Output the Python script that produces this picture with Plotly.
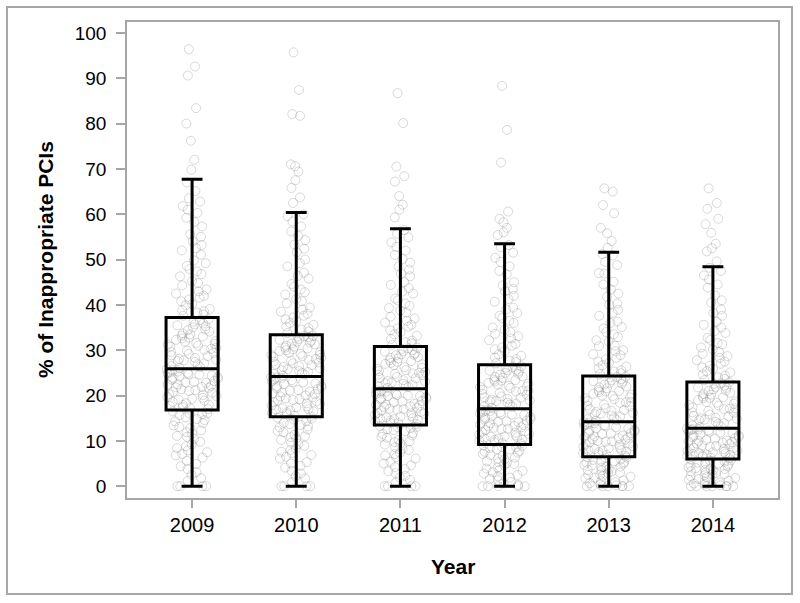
import plotly.graph_objects as go

years = ["2009", "2010", "2011", "2012", "2013", "2014"]

# box summary statistics
q1 = [16.8, 15.3, 13.5, 9.2, 6.5, 6.0]
median = [25.9, 24.2, 21.5, 17.1, 14.2, 12.8]
q3 = [37.2, 33.4, 30.8, 26.8, 24.3, 23.0]
lower_whisker = [0, 0, 0, 0, 0, 0]
upper_whisker = [67.7, 60.4, 56.8, 53.5, 51.6, 48.4]

# individual hospital values (estimated from the jittered point cloud)
pts_2009 = [0, 0, 0, 1.2, 2.5, 3.8, 4.4, 5.6, 6.3, 7.1, 7.9, 8.4, 9.2, 9.8, 10.5, 11.1, 11.6, 12.3, 12.8, 13.4,
            13.9, 14.3, 14.8, 15.2, 15.7, 16.1, 16.5, 3.1, 6.8, 10.9,
            17.0, 17.4, 17.9, 18.3, 18.6, 19.1, 19.5, 19.9, 20.3, 20.6, 21.0, 21.4, 21.8, 22.1, 22.5, 22.8, 23.2,
            23.5, 23.9, 24.2, 24.6, 24.9, 25.3, 25.6, 18.9, 20.1, 21.7, 22.9, 24.1, 25.1,
            26.1, 26.5, 26.9, 27.4, 27.8, 28.3, 28.7, 29.2, 29.6, 30.1, 30.5, 31.0, 31.4, 31.9, 32.3, 32.8, 33.2,
            33.7, 34.1, 34.6, 35.0, 35.5, 35.9, 36.3, 36.8, 27.1, 28.9, 30.8, 33.0, 35.3,
            37.6, 38.3, 39.1, 39.9, 40.8, 41.6, 42.5, 43.4, 44.3, 45.2, 46.3, 47.4, 48.6, 49.8, 51.1, 52.5, 54.0,
            55.6, 57.3, 59.2, 61.0, 62.8, 65.1, 69.8, 76.2, 80.0, 83.4, 90.6, 92.6, 96.4]
pts_2009_more = [1.8, 4.9, 8.8, 11.9, 14.6, 16.0, 0, 7.5, 13.1, 15.9,
                 17.2, 18.0, 19.3, 20.8, 21.2, 22.4, 23.7, 24.4, 25.0, 25.8, 19.7, 23.0, 17.7, 21.9, 24.7,
                 26.3, 27.6, 28.1, 29.4, 30.3, 31.2, 32.0, 32.6, 34.4, 35.7, 36.6, 29.9, 27.9, 33.5, 31.6,
                 37.9, 38.8, 40.2, 41.2, 43.0, 44.8, 46.8, 49.2, 52.0, 55.0, 58.3, 60.3, 63.5, 67.0, 72.0,
                 38.6, 42.0, 47.9, 53.2, 61.8]

pts_2010 = [0, 0, 0, 0.9, 2.2, 3.4, 4.5, 5.3, 6.1, 6.9, 7.6, 8.3, 8.9, 9.6, 10.2, 10.8, 11.4, 11.9, 12.5, 13.0,
            13.5, 14.0, 14.4, 14.9, 15.1, 1.7, 5.0, 8.0, 11.0, 13.7,
            15.6, 15.9, 16.3, 16.7, 17.0, 17.4, 17.8, 18.1, 18.5, 18.9, 19.2, 19.6, 20.0, 20.3, 20.7, 21.1, 21.4,
            21.8, 22.2, 22.5, 22.9, 23.2, 23.6, 23.9, 16.1, 17.6, 19.4, 20.9, 22.7, 24.0,
            24.4, 24.8, 25.2, 25.6, 26.0, 26.3, 26.7, 27.1, 27.5, 27.9, 28.3, 28.7, 29.0, 29.4, 29.8, 30.2, 30.6,
            31.0, 31.3, 31.7, 32.1, 32.5, 32.9, 33.2, 25.4, 27.3, 28.9, 30.4, 31.9, 33.0,
            33.8, 34.5, 35.2, 36.0, 36.8, 37.6, 38.5, 39.4, 40.3, 41.3, 42.3, 43.4, 44.6, 45.8, 47.1, 48.5, 50.0,
            51.6, 53.3, 55.2, 57.3, 59.6, 62.5, 65.8, 69.4, 70.6, 81.7, 82.1, 87.4, 95.7]
pts_2010_more = [0, 2.8, 6.5, 9.3, 12.2, 14.7, 4.1, 10.5, 13.2, 7.3,
                 15.4, 16.5, 17.2, 18.3, 19.0, 19.8, 20.5, 21.6, 22.0, 23.0, 23.4, 24.1, 16.9, 18.7, 21.2,
                 24.6, 25.0, 25.8, 26.5, 27.7, 28.1, 28.5, 29.2, 30.0, 30.8, 31.5, 32.3, 33.1, 26.9, 29.6,
                 34.1, 34.9, 35.6, 36.4, 37.2, 38.0, 39.0, 40.8, 42.8, 44.0, 46.4, 49.2, 52.4, 54.3, 56.2,
                 58.4, 60.0, 63.7, 67.5, 71.0]

pts_2011 = [0, 0, 0, 0.8, 1.9, 2.9, 3.8, 4.6, 5.4, 6.1, 6.8, 7.4, 8.0, 8.6, 9.2, 9.7, 10.2, 10.7, 11.2, 11.7,
            12.1, 12.6, 13.0, 13.3, 1.4, 4.2, 7.1, 9.9, 12.4, 3.3,
            13.7, 14.0, 14.3, 14.6, 14.9, 15.2, 15.5, 15.8, 16.1, 16.4, 16.7, 17.0, 17.3, 17.6, 17.9, 18.2, 18.5,
            18.8, 19.1, 19.4, 19.7, 20.0, 20.3, 20.6, 20.9, 21.2, 14.5, 16.0, 17.8, 19.9,
            21.7, 22.0, 22.4, 22.7, 23.1, 23.4, 23.8, 24.1, 24.5, 24.8, 25.2, 25.6, 25.9, 26.3, 26.7, 27.0, 27.4,
            27.8, 28.2, 28.5, 28.9, 29.3, 29.7, 30.0, 30.4, 30.6, 22.9, 24.9, 27.2, 29.1,
            31.2, 31.8, 32.5, 33.2, 34.0, 34.8, 35.6, 36.5, 37.4, 38.3, 39.3, 40.3, 41.4, 42.5, 43.7, 45.0, 46.3,
            47.8, 49.3, 51.0, 52.8, 54.9, 56.5, 59.3, 62.1, 67.2, 68.4, 70.5, 80.1, 86.7]
pts_2011_more = [0, 2.3, 5.0, 8.3, 10.9, 12.8, 6.4, 9.4, 11.5, 13.1,
                 13.9, 14.8, 15.4, 16.2, 16.9, 17.5, 18.0, 18.7, 19.3, 19.9, 20.4, 21.0, 15.0, 17.1, 20.1,
                 21.9, 22.6, 23.2, 23.9, 24.6, 25.4, 26.1, 26.9, 27.6, 28.3, 29.0, 29.8, 30.3, 22.2, 25.0,
                 31.5, 32.1, 33.5, 34.4, 35.2, 36.1, 37.0, 38.8, 39.8, 41.0, 42.9, 44.4, 46.9, 48.5, 50.1,
                 52.0, 53.8, 55.7, 61.0, 64.0]

pts_2012 = [0, 0, 0, 0, 0.6, 1.3, 1.9, 2.5, 3.1, 3.6, 4.1, 4.6, 5.1, 5.5, 5.9, 6.3, 6.7, 7.1, 7.4, 7.8,
            8.1, 8.4, 8.7, 9.0, 0.9, 2.8, 4.9, 6.9, 8.9, 3.4,
            9.4, 9.7, 10.0, 10.3, 10.6, 10.9, 11.2, 11.5, 11.8, 12.1, 12.4, 12.7, 13.0, 13.3, 13.6, 13.9, 14.2,
            14.5, 14.8, 15.1, 15.4, 15.7, 16.0, 16.3, 16.6, 16.9, 10.5, 12.6, 14.3, 15.9,
            17.3, 17.6, 18.0, 18.4, 18.7, 19.1, 19.5, 19.8, 20.2, 20.6, 20.9, 21.3, 21.7, 22.0, 22.4, 22.8, 23.1,
            23.5, 23.9, 24.2, 24.6, 25.0, 25.3, 25.7, 26.1, 26.5, 18.9, 21.1, 23.3, 25.5,
            27.1, 27.7, 28.4, 29.1, 29.8, 30.6, 31.4, 32.2, 33.1, 34.0, 35.0, 36.0, 37.1, 38.2, 39.4, 40.7, 42.0,
            43.5, 45.0, 46.7, 48.5, 50.4, 52.7, 55.4, 57.0, 58.2, 60.6, 71.4, 78.6, 88.3]
pts_2012_more = [0, 0.3, 1.6, 3.9, 5.3, 6.1, 7.6, 8.2, 8.6, 2.2,
                 9.5, 10.2, 10.8, 11.4, 12.0, 12.9, 13.5, 14.1, 14.7, 15.3, 15.8, 16.4, 11.0, 13.2, 16.7,
                 17.5, 18.2, 18.8, 19.6, 20.4, 21.0, 21.9, 22.6, 23.4, 24.1, 24.8, 25.6, 26.3, 19.3, 22.2,
                 27.4, 28.0, 28.8, 30.2, 31.0, 32.6, 33.6, 34.5, 36.5, 37.6, 39.0, 41.3, 43.0, 44.3, 47.5,
                 49.5, 51.5, 53.2, 56.0, 59.0]

pts_2013 = [0, 0, 0, 0, 0, 0.4, 0.9, 1.3, 1.7, 2.1, 2.5, 2.9, 3.2, 3.5, 3.8, 4.1, 4.4, 4.7, 5.0, 5.3,
            5.6, 5.9, 6.2, 6.4, 0.7, 1.9, 3.0, 4.3, 5.5, 2.6,
            6.7, 7.0, 7.3, 7.6, 7.9, 8.2, 8.5, 8.8, 9.1, 9.4, 9.7, 10.0, 10.3, 10.6, 10.9, 11.2, 11.5,
            11.8, 12.1, 12.4, 12.7, 13.0, 13.3, 13.6, 13.9, 14.1, 7.8, 9.9, 11.7, 13.4,
            14.4, 14.8, 15.2, 15.6, 16.0, 16.4, 16.8, 17.2, 17.6, 18.0, 18.4, 18.8, 19.2, 19.6, 20.0, 20.4, 20.8,
            21.2, 21.6, 22.0, 22.4, 22.8, 23.2, 23.6, 24.0, 24.2, 15.9, 18.5, 20.9, 23.1,
            24.7, 25.3, 26.0, 26.7, 27.5, 28.3, 29.1, 30.0, 30.9, 31.9, 32.9, 34.0, 35.1, 36.3, 37.6, 38.9, 40.3,
            41.8, 43.4, 45.1, 46.9, 48.8, 50.9, 52.6, 54.1, 55.8, 60.2, 62.0, 65.0, 65.7]
pts_2013_more = [0, 0, 0.2, 1.1, 2.3, 3.6, 4.6, 5.2, 5.8, 6.3,
                 6.9, 7.5, 8.0, 8.7, 9.3, 9.8, 10.4, 11.0, 11.6, 12.2, 12.8, 13.5, 14.0, 8.4, 10.7,
                 14.6, 15.4, 16.2, 17.0, 17.8, 18.6, 19.4, 20.2, 21.0, 21.8, 22.6, 23.4, 24.1, 16.6, 19.9,
                 24.9, 25.6, 26.4, 27.2, 28.0, 28.9, 29.8, 31.0, 32.2, 33.5, 34.8, 36.0, 38.2, 40.0, 42.5,
                 44.5, 47.0, 49.5, 51.2, 57.0]

pts_2014 = [0, 0, 0, 0, 0, 0.4, 0.8, 1.2, 1.6, 2.0, 2.4, 2.7, 3.0, 3.3, 3.6, 3.9, 4.2, 4.5, 4.8, 5.1,
            5.4, 5.7, 5.9, 0.6, 1.8, 2.9, 4.0, 5.2, 2.2, 3.5,
            6.2, 6.5, 6.8, 7.1, 7.3, 7.6, 7.9, 8.2, 8.5, 8.7, 9.0, 9.3, 9.6, 9.9, 10.2, 10.5, 10.8,
            11.1, 11.4, 11.7, 12.0, 12.3, 12.6, 12.7, 7.0, 8.4, 9.7, 10.9, 12.1, 6.9,
            13.0, 13.4, 13.8, 14.2, 14.6, 15.0, 15.4, 15.8, 16.2, 16.6, 17.0, 17.4, 17.8, 18.2, 18.6, 19.0, 19.4,
            19.8, 20.2, 20.6, 21.0, 21.4, 21.8, 22.2, 22.6, 22.9, 14.9, 17.2, 19.6, 21.7,
            23.4, 24.0, 24.7, 25.4, 26.2, 27.0, 27.8, 28.7, 29.6, 30.6, 31.6, 32.7, 33.8, 35.0, 36.3, 37.6, 39.0,
            40.5, 42.1, 43.8, 45.6, 47.5, 49.6, 51.8, 53.5, 55.9, 57.8, 61.2, 62.5, 65.7]
pts_2014_more = [0, 0, 0.2, 1.0, 2.6, 3.8, 4.4, 5.0, 5.6, 1.4,
                 6.3, 6.7, 7.2, 7.8, 8.3, 8.9, 9.4, 10.0, 10.6, 11.2, 11.8, 12.4, 12.5, 7.5, 10.1,
                 13.2, 13.9, 14.7, 15.5, 16.3, 17.1, 17.9, 18.7, 19.5, 20.3, 21.1, 21.9, 22.7, 15.1, 18.4,
                 23.7, 24.4, 25.1, 25.9, 26.6, 27.5, 28.3, 29.2, 30.2, 31.3, 32.3, 34.2, 35.6, 38.2, 41.0,
                 44.5, 46.5, 48.2, 52.5, 59.0]

points = [pts_2009 + pts_2009_more, pts_2010 + pts_2010_more, pts_2011 + pts_2011_more,
          pts_2012 + pts_2012_more, pts_2013 + pts_2013_more, pts_2014 + pts_2014_more]

FONT = "Liberation Sans, Arial, Helvetica, sans-serif"
fig = go.Figure()

# jittered point clouds (box outline hidden)
for yr, vals in zip(years, points):
    fig.add_trace(go.Box(
        x=[yr] * len(vals), y=vals,
        boxpoints="all", jitter=1.0, pointpos=0,
        width=0.5, whiskerwidth=0,
        line=dict(width=0, color="rgba(0,0,0,0)"),
        fillcolor="rgba(0,0,0,0)",
        marker=dict(symbol="circle-open", size=9,
                    color="rgba(120,120,120,0.28)", line=dict(width=1)),
        hoverinfo="skip", showlegend=False,
    ))

# summary boxes
fig.add_trace(go.Box(
    x=years, q1=q1, median=median, q3=q3,
    lowerfence=lower_whisker, upperfence=upper_whisker,
    boxpoints=False, width=0.5, whiskerwidth=0.4,
    line=dict(color="black", width=3),
    fillcolor="rgba(0,0,0,0)",
    showlegend=False,
))

pl, pr, pt, pb = 127, 22, 22, 105
W, H = 800, 603
pw, ph = W - pl - pr, H - pt - pb

def px_x(x):
    return (x - pl) / pw

def px_y(y):
    return (H - pb - y) / ph

fig.update_layout(
    width=W, height=H,
    margin=dict(l=pl, r=pr, t=pt, b=pb),
    paper_bgcolor="white", plot_bgcolor="white",
    boxmode="overlay",
    font=dict(family=FONT, color="black"),
    xaxis=dict(type="category", categoryorder="array", categoryarray=years,
               range=[-0.625, 5.625], showgrid=False, zeroline=False,
               showline=True, mirror=True, linecolor="#a6a6a6", linewidth=1.5,
               ticks="outside", ticklen=8, tickcolor="#a6a6a6", tickwidth=1.5,
               tickfont=dict(size=20, family=FONT, color="black")),
    yaxis=dict(range=[-2.6, 102.4], tickvals=list(range(0, 101, 10)),
               showgrid=False, zeroline=False,
               showline=True, mirror=True, linecolor="#a6a6a6", linewidth=1.5,
               ticks="outside", ticklen=9, tickcolor="#a6a6a6", tickwidth=1.5,
               ticklabelstandoff=6,
               tickfont=dict(size=19, family=FONT, color="black")),
    shapes=[dict(type="rect", xref="paper", yref="paper",
                 x0=px_x(7), x1=px_x(792), y0=px_y(594), y1=px_y(7),
                 line=dict(color="#a6a6a6", width=2))],
    annotations=[
        dict(text="<b>Year</b>", xref="paper", yref="paper", x=0.5, y=px_y(566),
             showarrow=False, font=dict(size=21, family=FONT, color="black"),
             xanchor="center", yanchor="middle"),
        dict(text="<b>% of Inappropriate PCIs</b>", xref="paper", yref="paper",
             x=px_x(45), y=0.5, textangle=-90, showarrow=False,
             font=dict(size=21, family=FONT, color="black"),
             xanchor="center", yanchor="middle"),
    ],
)

fig.write_html("out.html", config={"displayModeBar": False},
               post_script="document.body.style.margin='0px';document.body.style.padding='0px';")
